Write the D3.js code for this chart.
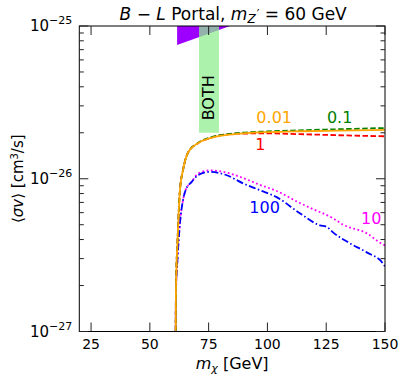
<!DOCTYPE html>
<html>
<head>
<meta charset="utf-8">
<script src="https://cdn.jsdelivr.net/npm/d3@7"></script>
<style>
  body { margin: 0; background: #fff; }
  svg { font-family: "DejaVu Sans", sans-serif; }
</style>
</head>
<body>
<div id="chart"></div>
<script>
// masses in GeV, log10 of <sigma v>
const massOrange = [61.0, 61.1, 61.8, 62.8, 64.1, 66.2, 70.5, 75.6, 86.2, 100, 113.8, 130, 150];
const logOrange  = [-27, -26.73, -26.40, -26.075, -25.944, -25.83, -25.767, -25.734, -25.708, -25.695, -25.689, -25.685, -25.68];

const massGreen = [61.0, 61.1, 61.8, 62.8, 64.1, 66.2, 70.5, 75.6, 86.2, 100, 113.8, 125, 150];
const logGreen  = [-27, -26.73, -26.40, -26.075, -25.944, -25.83, -25.765, -25.73, -25.703, -25.69, -25.683, -25.678, -25.668];

const massRed = [61.0, 61.1, 61.8, 62.8, 64.1, 66.2, 70.5, 75.6, 86.2, 100, 113.8, 130, 150];
const logRed  = [-27, -26.73, -26.40, -26.075, -25.944, -25.83, -25.767, -25.734, -25.705, -25.703, -25.708, -25.715, -25.722];

const massMagenta = [61.0, 61.1, 61.8, 62.8, 64.1, 65.2, 67.8, 70.5, 75.6, 82.7, 89.6, 96.8, 103.9, 113.8, 118.1, 127.9, 132.1, 142.2, 149.1, 150];
const logMagenta  = [-27, -26.75, -26.515, -26.292, -26.141, -26.075, -26.02, -25.965, -25.945, -25.96, -25.995, -26.04, -26.08, -26.159, -26.19, -26.259, -26.3, -26.357, -26.43, -26.436];

const massBlue = [61.0, 61.1, 61.8, 62.8, 64.1, 65.2, 67.8, 70.5, 75.6, 82.7, 89.6, 96.8, 103.9, 113.8, 122.3, 125.2, 127.9, 135.1, 142.2, 149.1, 150];
const logBlue  = [-27, -26.75, -26.515, -26.292, -26.141, -26.075, -26.02, -25.977, -25.955, -25.977, -26.03, -26.075, -26.12, -26.226, -26.305, -26.315, -26.351, -26.423, -26.482, -26.554, -26.574];

const curveLabels = ["0.01", "0.1", "1", "10", "100"];
const xTicks = [25, 50, 75, 100, 125, 150];
const yTickExps = [-27, -26, -25];

// excluded regions
const purpleMass = [61.6, 61.6, 84.1];
const purpleLog  = [-25, -25.125, -25];
const bothMass = [70.9, 79.4];
const bothSv = [2e-26, 1e-25];

const W = 407, H = 381;
const margin = {left: 79.3, right: 22, top: 26, bottom: 49.5};

const svg = d3.select('#chart').append('svg')
    .attr('width', W)
    .attr('height', H);

const x = d3.scaleLinear().domain([20, 150]).range([margin.left, W - margin.right]);
const y = d3.scaleLog().domain([1e-27, 1e-25]).range([H - margin.bottom, margin.top]);

svg.append('defs').append('clipPath').attr('id', 'clip')
    .append('rect')
    .attr('x', x(20)).attr('y', y(1e-25))
    .attr('width', x(150) - x(20)).attr('height', y(1e-27) - y(1e-25));

const plot = svg.append('g').attr('clip-path', 'url(#clip)');

// purple region then green band on top
plot.append('path')
    .attr('d', d3.line()(purpleMass.map((m, i) => [x(m), y(Math.pow(10, purpleLog[i]))])) + 'Z')
    .attr('fill', '#9d00ff');

plot.append('rect')
    .attr('x', x(bothMass[0]))
    .attr('width', x(bothMass[1]) - x(bothMass[0]))
    .attr('y', y(bothSv[1]))
    .attr('height', y(bothSv[0]) - y(bothSv[1]))
    .attr('fill', '#90ee90')
    .attr('fill-opacity', 0.75);

svg.append('text')
    .attr('transform', `translate(${(x(bothMass[0]) + x(bothMass[1])) / 2 + 5},${y(Math.pow(10, -25.47))}) rotate(-90)`)
    .attr('text-anchor', 'middle')
    .attr('font-size', 16)
    .text('BOTH');

const line = d3.line()
    .x(d => x(d[0]))
    .y(d => y(Math.pow(10, d[1])))
    .curve(d3.curveMonotoneX);

const series = [
    {m: massBlue, v: logBlue, color: 'blue', dash: '7,2.5,1.5,2.5'},
    {m: massMagenta, v: logMagenta, color: 'magenta', dash: '1.8,2.5'},
    {m: massRed, v: logRed, color: 'red', dash: '5.5,2.5'},
    {m: massGreen, v: logGreen, color: 'green', dash: '5.5,2.5'},
    {m: massOrange, v: logOrange, color: 'orange', dash: null},
];

// draw magenta under blue, then the top ones
const order = [1, 0, 2, 3, 4];
for (const i of order) {
    const s = series[i];
    plot.append('path')
        .attr('d', line(s.m.map((m, j) => [m, s.v[j]])))
        .attr('fill', 'none')
        .attr('stroke', s.color)
        .attr('stroke-width', 1.8)
        .attr('stroke-dasharray', s.dash);
}

// curve labels
const labelPos = [
    {t: curveLabels[0], m: 95.3, v: 2.31e-26, color: 'orange'},
    {t: curveLabels[1], m: 125.3, v: 2.31e-26, color: 'green'},
    {t: curveLabels[2], m: 94.8, v: 1.55e-26, color: 'red'},
    {t: curveLabels[3], m: 139.8, v: 5.05e-27, color: 'magenta'},
    {t: curveLabels[4], m: 92.3, v: 5.95e-27, color: 'blue'},
];
svg.append('g').selectAll('text')
    .data(labelPos)
    .join('text')
    .attr('x', d => x(d.m))
    .attr('y', d => y(d.v))
    .attr('font-size', 16)
    .attr('fill', d => d.color)
    .text(d => d.t);

// frame
svg.append('rect')
    .attr('x', x(20)).attr('y', y(1e-25))
    .attr('width', x(150) - x(20)).attr('height', y(1e-27) - y(1e-25))
    .attr('fill', 'none')
    .attr('stroke', 'black')
    .attr('stroke-width', 1);

// x ticks, inward top and bottom
const tickG = svg.append('g').attr('stroke', '#222').attr('stroke-width', 1);
for (const t of xTicks) {
    tickG.append('line').attr('x1', x(t)).attr('x2', x(t)).attr('y1', y(1e-27)).attr('y2', y(1e-27) - 9);
    tickG.append('line').attr('x1', x(t)).attr('x2', x(t)).attr('y1', y(1e-25)).attr('y2', y(1e-25) + 9);
}
svg.append('g').selectAll('text')
    .data(xTicks)
    .join('text')
    .attr('x', d => x(d))
    .attr('y', y(1e-27) + 17)
    .attr('text-anchor', 'middle')
    .attr('font-size', 14)
    .text(d => d);

// y ticks major + minor, inward left and right
const yMinor = [];
for (const e of [-27, -26]) for (let k = 2; k <= 9; k++) yMinor.push(k * Math.pow(10, e));
for (const e of yTickExps) {
    const v = Math.pow(10, e);
    tickG.append('line').attr('x1', x(20)).attr('x2', x(20) + 9).attr('y1', y(v)).attr('y2', y(v));
    tickG.append('line').attr('x1', x(150)).attr('x2', x(150) - 9).attr('y1', y(v)).attr('y2', y(v));
}
for (const v of yMinor) {
    tickG.append('line').attr('x1', x(20)).attr('x2', x(20) + 4.5).attr('y1', y(v)).attr('y2', y(v));
    tickG.append('line').attr('x1', x(150)).attr('x2', x(150) - 4.5).attr('y1', y(v)).attr('y2', y(v));
}
const yLab = svg.append('g').selectAll('text')
    .data(yTickExps)
    .join('text')
    .attr('x', x(20) - 7)
    .attr('y', d => y(Math.pow(10, d)) + 5)
    .attr('text-anchor', 'end')
    .attr('font-size', 15);
yLab.append('tspan').text('10');
yLab.append('tspan').attr('dy', -7).attr('font-size', 11).text(d => '\u2212' + Math.abs(d));

// title
const title = svg.append('text')
    .attr('x', (x(20) + x(150)) / 2 + 1)
    .attr('y', 20)
    .attr('text-anchor', 'middle')
    .attr('font-size', 17);
title.append('tspan').attr('font-style', 'italic').text('B');
title.append('tspan').text(' \u2212 ');
title.append('tspan').attr('font-style', 'italic').text('L');
title.append('tspan').text(' Portal, ');
title.append('tspan').attr('font-style', 'italic').text('m');
title.append('tspan').attr('font-style', 'italic').attr('font-size', 12).attr('dy', 3).text('Z');
title.append('tspan').attr('font-size', 12).attr('dx', 1).attr('dy', -5).text('\u2032');
title.append('tspan').attr('dy', 2).text(' = 60 GeV');

// axis labels
const xl = svg.append('text')
    .attr('x', (x(20) + x(150)) / 2)
    .attr('y', 369)
    .attr('text-anchor', 'middle')
    .attr('font-size', 16);
xl.append('tspan').attr('font-style', 'italic').text('m');
xl.append('tspan').attr('font-style', 'italic').attr('font-size', 11).attr('dy', 3).text('\u03c7');
xl.append('tspan').attr('dy', -3).text(' [GeV]');

const yl = svg.append('text')
    .attr('transform', `translate(23,${(y(1e-27) + y(1e-25)) / 2}) rotate(-90)`)
    .attr('text-anchor', 'middle')
    .attr('font-size', 15);
yl.append('tspan').text('\u27e8');
yl.append('tspan').attr('font-style', 'italic').text('\u03c3v');
yl.append('tspan').text('\u27e9 [cm');
yl.append('tspan').attr('font-size', 10).attr('dy', -5).text('3');
yl.append('tspan').attr('dy', 5).text('/s]');
</script>
</body>
</html>
